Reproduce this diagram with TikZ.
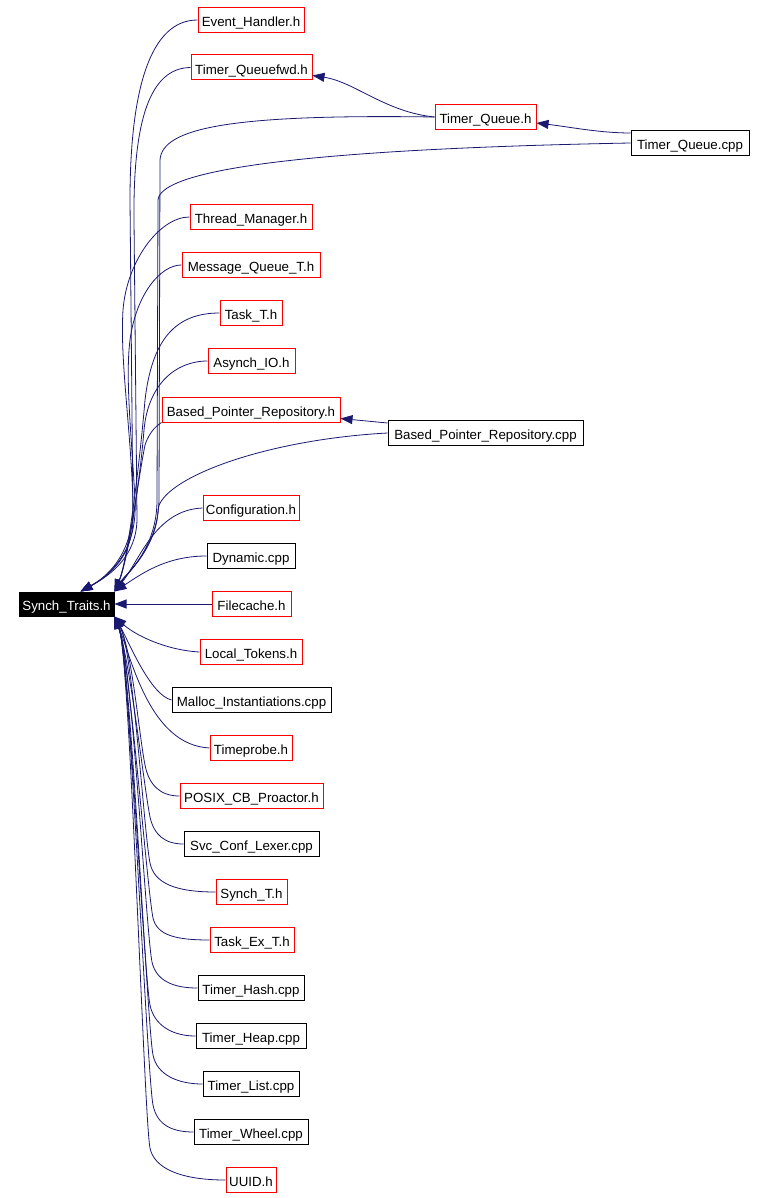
\documentclass[tikz,border=0pt]{standalone}
\usepackage{fontspec}
\setmainfont{Liberation Sans}
\usetikzlibrary{arrows.meta}
\definecolor{edgeblue}{RGB}{25,25,112}
\tikzset{
  file/.style={draw=black, line width=1pt, inner sep=0pt, minimum height=25pt, text height=13.5pt, text depth=0pt, font=\fontsize{13.3}{16}\selectfont},
  doc/.style={file, draw=red},
  dep/.style={draw=edgeblue, line width=0.8pt, {Triangle[length=12pt,width=9pt]}-}
}
\begin{document}
\begin{tikzpicture}[x=1pt,y=-1pt]
\useasboundingbox (0,0) rectangle (766,1198);
\node[file, fill=black, text=white, minimum width=95pt, minimum height=24pt] (st) at (66.5,604) {Synch\_Traits.h};
\node[doc, minimum width=106pt] (eh) at (251,20) {Event\_Handler.h};
\node[doc, minimum width=121pt] (tqf) at (251.5,67.5) {Timer\_Queuefwd.h};
\node[doc, minimum width=101pt] (tq) at (485.5,117) {Timer\_Queue.h};
\node[file, minimum width=118pt] (tqc) at (690,143) {Timer\_Queue.cpp};
\node[doc, minimum width=122pt] (tm) at (251,217) {Thread\_Manager.h};
\node[doc, minimum width=138pt] (mq) at (251,265) {Message\_Queue\_T.h};
\node[doc, minimum width=62pt] (tt) at (251,313) {Task\_T.h};
\node[doc, minimum width=87pt] (aio) at (251.5,361) {Asynch\_IO.h};
\node[doc, minimum width=178pt] (bph) at (251,409.5) {Based\_Pointer\_Repository.h};
\node[file, minimum width=195pt] (bpc) at (485.5,433) {Based\_Pointer\_Repository.cpp};
\node[doc, minimum width=96pt] (cfg) at (251,508) {Configuration.h};
\node[file, minimum width=88pt] (dyn) at (251,556) {Dynamic.cpp};
\node[doc, minimum width=79pt] (fc) at (251.5,604) {Filecache.h};
\node[doc, minimum width=102pt] (lt) at (251,652) {Local\_Tokens.h};
\node[file, minimum width=159pt] (mi) at (251.5,700) {Malloc\_Instantiations.cpp};
\node[doc, minimum width=82pt] (tp) at (251,748) {Timeprobe.h};
\node[doc, minimum width=143pt] (pcb) at (251.5,796) {POSIX\_CB\_Proactor.h};
\node[file, minimum width=135pt] (scl) at (251.5,844) {Svc\_Conf\_Lexer.cpp};
\node[doc, minimum width=71pt] (sth) at (251.5,892) {Synch\_T.h};
\node[doc, minimum width=84pt] (tet) at (252,940) {Task\_Ex\_T.h};
\node[file, minimum width=106pt] (thash) at (251,988) {Timer\_Hash.cpp};
\node[file, minimum width=110pt] (theap) at (251,1036) {Timer\_Heap.cpp};
\node[file, minimum width=96pt] (tlist) at (251,1084) {Timer\_List.cpp};
\node[file, minimum width=114pt] (twheel) at (251,1132) {Timer\_Wheel.cpp};
\node[doc, minimum width=50pt] (uuid) at (251,1180) {UUID.h};
\coordinate (tipl) at ([xshift=-34pt]st.north east);
\draw[dep] (tipl) .. controls (105,578) and (132,560) .. (133,520) -- (130,200) .. controls (130,90) and (150,20) .. (eh.west);
\draw[dep] (tipl) .. controls (105,578) and (136,560) .. (137,520) -- (134,220) .. controls (133,120) and (150,68) .. (tqf.west);
\draw[dep] (tipl) .. controls (105,578) and (135,555) .. (133,500) .. controls (130,420) and (120,360) .. (123,310) .. controls (127,260) and (160,217) .. (tm.west);
\draw[dep] (tipl) .. controls (105,578) and (138,555) .. (135,500) .. controls (132,440) and (125,380) .. (130,340) .. controls (136,295) and (160,265) .. (mq.west);
\draw[dep] (st.north east) .. controls (125,575) and (158,550) .. (159,500) -- (160,160) .. controls (162,128) and (230,114) .. (tq.west);
\draw[dep] (st.north east) .. controls (125,575) and (157,550) .. (157,500) -- (158,200) .. controls (160,175) and (260,150) .. (tqc.west);
\draw[dep] (st.north east) .. controls (128,560) and (140,460) .. (145,400) .. controls (152,340) and (175,313) .. (tt.west);
\draw[dep] (st.north east) .. controls (128,560) and (140,480) .. (144,430) .. controls (148,385) and (175,361) .. (aio.west);
\draw[dep] (st.north east) .. controls (128,560) and (138,480) .. (145,445) .. controls (150,430) and (158,425) .. (bph.south west);
\draw[dep] (st.north east) .. controls (130,570) and (157,545) .. (158,510) .. controls (160,480) and (260,440) .. (bpc.west);
\draw[dep] (st.north east) .. controls (140,560) and (155,510) .. (cfg.west);
\draw[dep] (st.north east) .. controls (140,575) and (165,556) .. (dyn.west);
\draw[dep] (st.east) -- (fc.west);
\draw[dep] ([yshift=-8pt]tqf.east) .. controls (355,82) and (385,112) .. (tq.west);
\draw[dep] ([yshift=-6pt]tq.east) .. controls (570,127) and (600,133) .. ([yshift=10pt]tqc.west);
\draw[dep] ([yshift=-9pt]bph.east) -- ([yshift=10pt]bpc.west);
\draw[dep] (st.south east) .. controls (135,635) and (165,650) .. (lt.west);
\draw[dep] (st.south east) .. controls (128,640) and (150,695) .. (mi.west);
\draw[dep] (st.south east) .. controls (132,660) and (150,745) .. (tp.west);
\draw[dep] (st.south east) .. controls (132,650) and (139,735) .. (145,765) .. controls (149,785) and (160,796) .. (pcb.west);
\draw[dep] (st.south east) .. controls (130,660) and (144,787) .. (150,817) .. controls (154,835) and (165,844) .. (scl.west);
\draw[dep] (st.south east) .. controls (133,650) and (144,833) .. (150,863) .. controls (154,883) and (175,892) .. (sth.west);
\draw[dep] (st.south east) .. controls (129,655) and (147,888) .. (153,918) .. controls (157,935) and (175,940) .. (tet.west);
\draw[dep] (st.south east) .. controls (132,660) and (146,932) .. (152,962) .. controls (156,980) and (172,988) .. (thash.west);
\draw[dep] (st.south east) .. controls (128,650) and (144,975) .. (150,1005) .. controls (154,1025) and (172,1036) .. (theap.west);
\draw[dep] (st.south east) .. controls (131,660) and (147,1025) .. (153,1055) .. controls (157,1075) and (178,1084) .. (tlist.west);
\draw[dep] (st.south east) .. controls (129,650) and (147,1075) .. (153,1105) .. controls (157,1125) and (172,1132) .. (twheel.west);
\draw[dep] (st.south east) .. controls (130,655) and (144,1118) .. (150,1148) .. controls (154,1168) and (180,1180) .. (uuid.west);
\end{tikzpicture}
\end{document}
